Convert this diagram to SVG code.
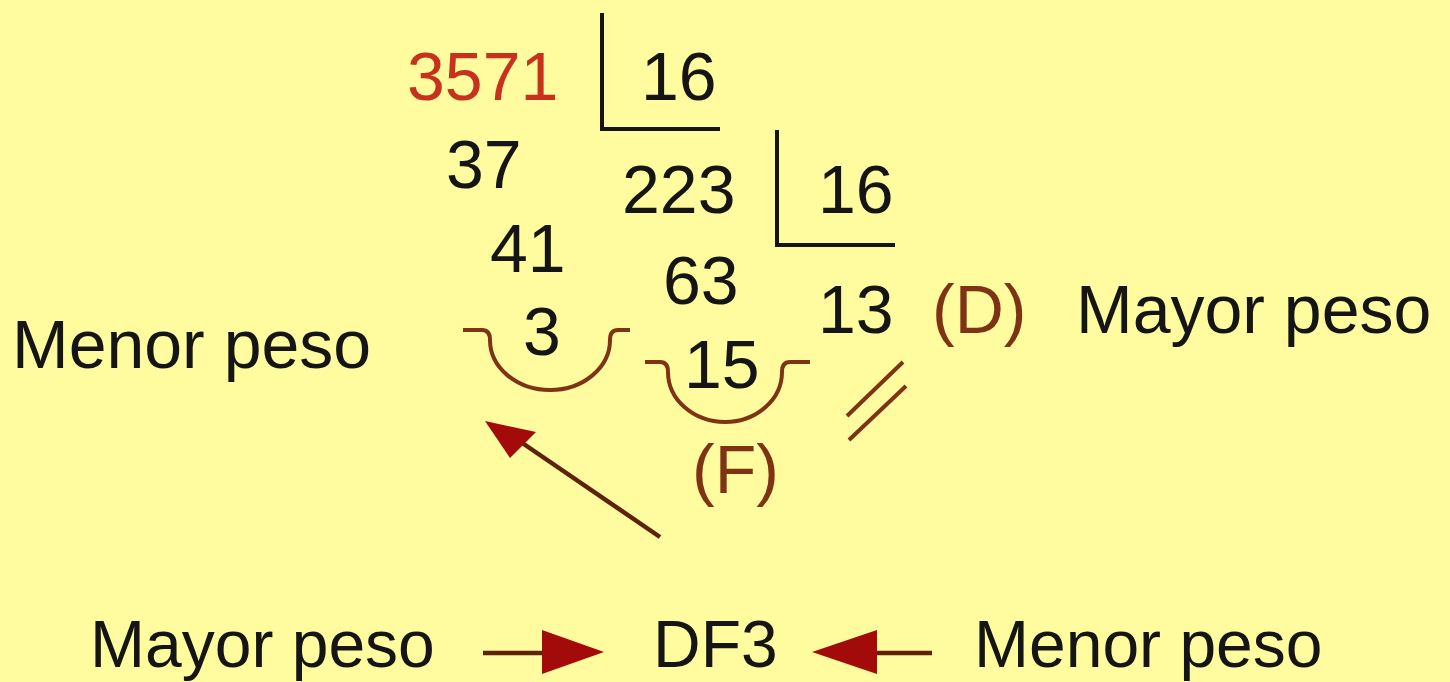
<svg xmlns="http://www.w3.org/2000/svg" width="1450" height="682" viewBox="0 0 1450 682">
<defs>
<style>
text{font-family:"Liberation Sans",Arial,sans-serif;font-size:68px;fill:#151515}
.bt{font-size:66px}
.red{fill:#C8321C}
.br{fill:#7E3314}
.ln{stroke:#151515;stroke-width:4;fill:none}
.arc{stroke:#7E3314;stroke-width:4;fill:none}
.ar{stroke:#5E220C;stroke-width:4.5;fill:none}
.head{fill:#A30A0A}
</style>
</defs>
<rect width="1450" height="682" fill="#FFFB9F"/>
<g id="division1">
<text class="red" x="407" y="100">3571</text>
<path class="ln" d="M602,13 V129 H720"/>
<text x="641" y="100">16</text>
<text x="446" y="188">37</text>
<text x="490" y="272">41</text>
<text x="523" y="355">3</text>
</g>
<g id="division2">
<text x="622" y="213">223</text>
<path class="ln" d="M777,130 V245 H895"/>
<text x="818" y="213">16</text>
<text x="663" y="304">63</text>
<text x="684" y="388">15</text>
</g>
<g id="quotient">
<text x="818" y="333">13</text>
<text class="br" x="932" y="333">(D)</text>
<text x="1076" y="333">Mayor peso</text>
</g>
<g id="left-label">
<text x="12" y="368">Menor peso</text>
</g>
<g id="f-label">
<text class="br" x="692" y="493">(F)</text>
</g>
<g id="bottom">
<text class="bt" x="90" y="667">Mayor peso</text>
<text class="bt" x="653" y="667">DF3</text>
<text class="bt" x="974" y="667">Menor peso</text>
</g>
<g id="connectors">
<path class="arc" d="M463,330 H482 Q490,330 490,340 A60,50 0 0 0 610,340 Q610,330 618,330 H630"/>
<path class="arc" d="M645,362 H660 Q668,362 668,372 A57,50 0 0 0 782,372 Q782,362 790,362 H810"/>
<path class="arc" d="M847,416 L903,362 M849,440 L906,386"/>
<path class="ar" d="M660,537 L515,438"/>
<polygon class="head" points="485,421 536,432 510,458"/>
<path class="ar" d="M483,653 H550"/>
<polygon class="head" points="604,652 542,630 542,674"/>
<path class="ar" d="M870,653 H932"/>
<polygon class="head" points="812,652 877,630 877,674"/>
</g>
</svg>
